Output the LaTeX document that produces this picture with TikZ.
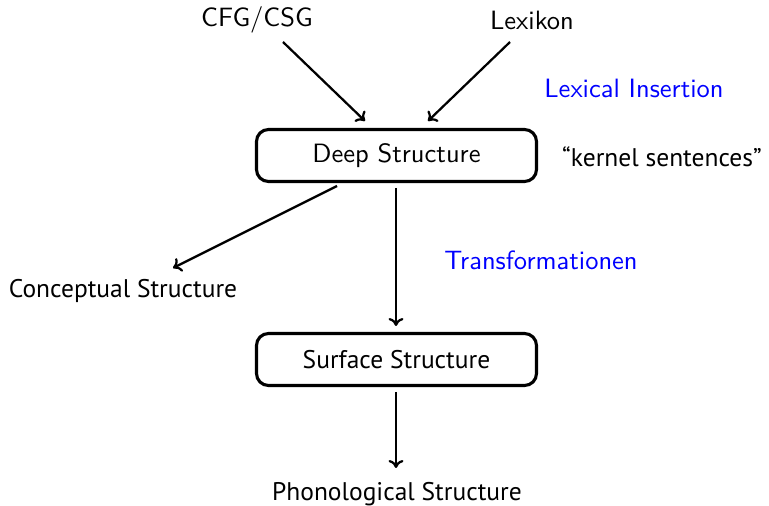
\documentclass[tikz,border=0pt]{standalone}
\usepackage{fontspec}
\newfontfamily\humsans{PT Sans}
\usetikzlibrary{arrows.meta}
\newcommand\lmtext{\sffamily\fontsize{10.6}{13}\selectfont}
\newcommand\humtext{\humsans\fontsize{10.2}{12.5}\selectfont}
\tikzset{
  stage/.style={draw, line width=1.25pt, rounded corners=4.8pt, minimum width=112pt,
                minimum height=20.8pt, inner sep=0pt},
  lmlabel/.style={font=\lmtext, inner sep=0pt},
  hlabel/.style={font=\humtext, inner sep=0pt},
  note/.style={font=\lmtext, text=blue, inner sep=0pt},
  flow/.style={-{To[length=3.2pt,width=6pt]}, line width=0.9pt},
}
\begin{document}
\begin{tikzpicture}[x=0.4pt, y=-0.4pt]
  \useasboundingbox (0,0) rectangle (769,506);
  % sources
  \node[lmlabel] (cfg) at (257,20) {CFG/CSG};
  \node[lmlabel] (lex) at (532,20) {Lexikon};
  % main stages
  \node[stage, font=\lmtext] (deep) at (396.5,155.5) {Deep Structure};
  \node[stage, font=\humtext] (surf) at (396.5,359.5) {Surface Structure};
  % outputs
  \node[hlabel] (conc) at (123,291) {Conceptual Structure};
  \node[hlabel] (phon) at (397,494) {Phonological Structure};
  % side notes
  \node[note] (ins) at (634,88) {Lexical Insertion};
  \node[note] (trans) at (541,260) {Transformationen};
  \node[hlabel] (kern) at (662,157) {“kernel sentences”};
  % helper ends for the connectors
  \coordinate (cfgA) at (283,42);
  \coordinate (cfgB) at (365,121);
  \coordinate (lexA) at (510,42);
  \coordinate (lexB) at (428,121);
  \coordinate (concA) at (337,186);
  \coordinate (concB) at (173,268);
  \coordinate (surfA) at (396,188);
  \coordinate (surfB) at (396,326);
  \coordinate (phonA) at (396,392);
  \coordinate (phonB) at (396,468);
  % connectors
  \draw[flow] (cfgA) -- (cfgB);
  \draw[flow] (lexA) -- (lexB);
  \draw[flow] (concA) -- (concB);
  \draw[flow] (surfA) -- (surfB);
  \draw[flow] (phonA) -- (phonB);
\end{tikzpicture}
\end{document}
